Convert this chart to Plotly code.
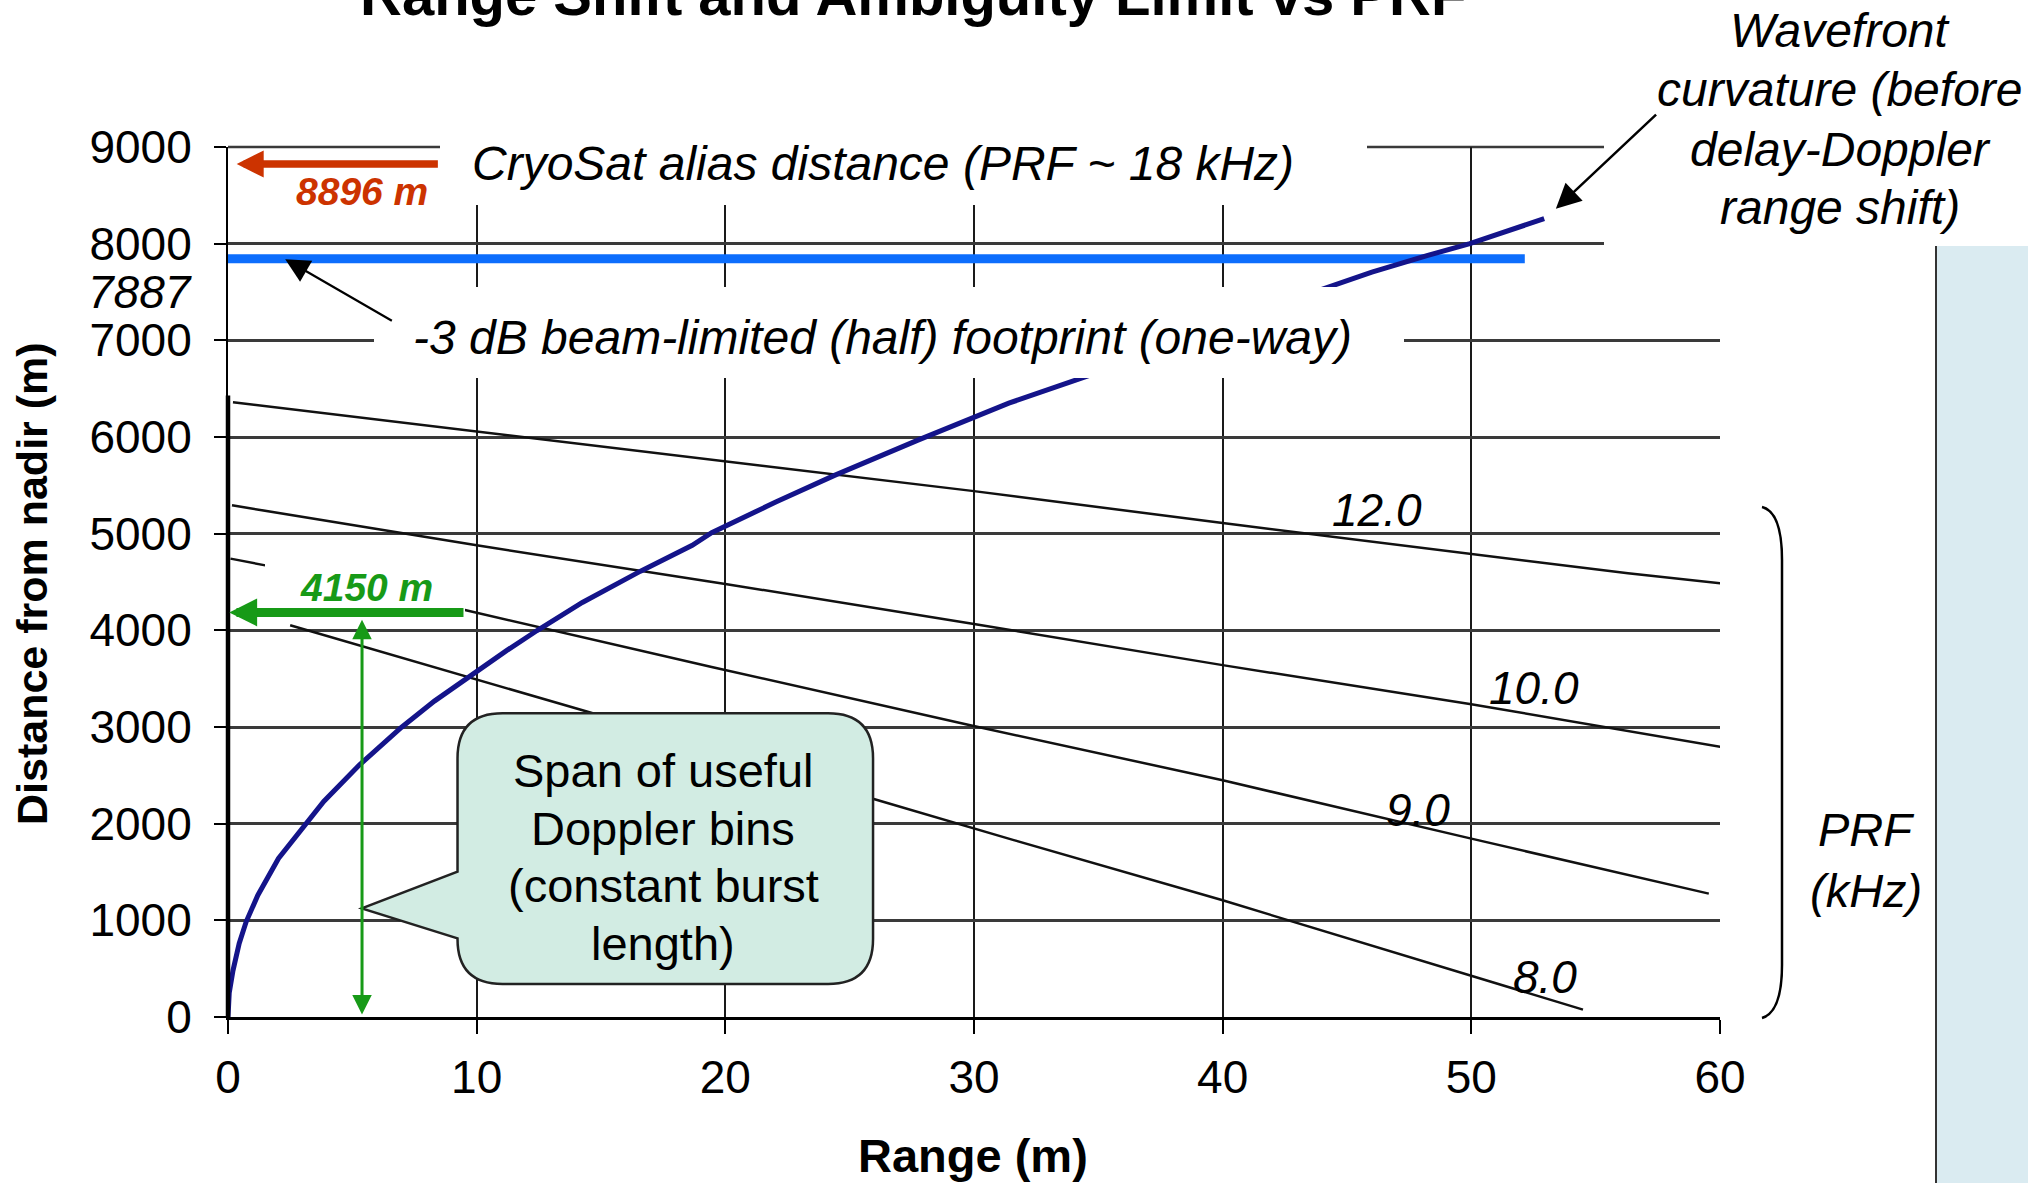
import plotly.graph_objects as go

# ---------------- data ----------------
# wavefront curvature curve: range shift (m) vs distance from nadir (m)
wave_range = [0, 0.05, 0.2, 0.45, 0.73, 1.2, 2.03, 3.07, 3.85, 5.28, 6.97, 8.3, 9.83,
              11.2, 12.43, 14.25, 16.59, 18.67, 19.45, 22.05, 24.39, 27.77, 31.4,
              34.67, 37.5, 40.5, 43.9, 46.0, 48.25, 49.94, 52.93]
wave_dist = [0, 250, 480, 760, 985, 1260, 1640, 1987, 2230, 2606, 2995, 3268, 3545,
             3790, 3998, 4288, 4612, 4880, 5010, 5330, 5603, 5970, 6350,
             6640, 6940, 7230, 7520, 7705, 7879, 8000, 8259]

# ambiguity limit lines for several PRFs (kHz)
prf12_x = [0.2, 10, 20, 30, 40, 50, 56.3, 60.3]
prf12_y = [6360, 6060, 5750, 5440, 5110, 4790, 4590, 4480]
prf10_x = [0.16, 10, 20, 30, 40, 50, 60.08]
prf10_y = [5293, 4880, 4480, 4065, 3640, 3235, 2793]
prf9_x = [0.1, 1.5, 9.57, 19.45, 29.85, 40, 50, 59.55]
prf9_y = [4742, 4672, 4207, 3621, 3018, 2449, 1845, 1276]
prf8_x = [2.5, 14.5, 25.9, 31.6, 40, 50, 54.49]
prf8_y = [4052, 3155, 2260, 1830, 1207, 431, 76]
prf_labels = ["12.0", "10.0", "9.0", "8.0"]
prf_label_x = [46.2, 52.5, 47.85, 52.98]
prf_label_y = [5240, 3400, 2140, 414]

# -3 dB beam-limited footprint (labelled 7887 m; drawn where it sits in the picture)
footprint_label = 7887
footprint_y = [7845, 7845]
footprint_x = [-0.44, 52.15]
# CryoSat alias distance, span of useful Doppler bins
alias_dist = 8896
span_dist = 4150

x_ticks = [0, 10, 20, 30, 40, 50, 60]
y_ticks = [0, 1000, 2000, 3000, 4000, 5000, 6000, 7000, 8000, 9000]

# ---------------- layout helpers ----------------
W, H = 2028, 1183
L, R, T, B = 228, 1720, 147, 1017
FONT = "Liberation Sans, Arial, Helvetica, sans-serif"


def PX(px):
    return (px - L) / (R - L)


def PY(py):
    return (B - py) / (B - T)


fig = go.Figure()

fig.add_trace(go.Scatter(x=footprint_x, y=footprint_y, mode="lines",
                         line=dict(color="#0D6EFD", width=9), hoverinfo="skip"))
for xs, ys in [(prf12_x, prf12_y), (prf10_x, prf10_y), (prf9_x, prf9_y), (prf8_x, prf8_y)]:
    fig.add_trace(go.Scatter(x=xs, y=ys, mode="lines",
                             line=dict(color="#111111", width=2.5), hoverinfo="skip"))
fig.add_trace(go.Scatter(x=wave_range, y=wave_dist, mode="lines",
                         line=dict(color="#14148A", width=5), hoverinfo="skip"))

shapes = []
# top gridline (9000)
shapes.append(dict(type="line", xref="paper", yref="paper", x0=0, x1=1, y0=1, y1=1,
                   line=dict(color="#3a3a3a", width=2.5), layer="below"))
# thick left axis segment
shapes.append(dict(type="line", xref="paper", yref="paper", x0=0, x1=0,
                   y0=0, y1=6430 / 9000, line=dict(color="black", width=4.5), layer="above"))
# white text backgrounds
for (x0, x1, y0, y1) in [(440, 1367, 95, 205), (374, 1404, 287, 378),
                         (1604, 2040, -5, 247.5), (265, 465, 558, 612)]:
    shapes.append(dict(type="rect", xref="paper", yref="paper",
                       x0=PX(x0), x1=PX(x1), y0=PY(y1), y1=PY(y0),
                       fillcolor="white", line=dict(width=0), layer="above"))
# light blue panel at right
shapes.append(dict(type="rect", xref="paper", yref="paper",
                   x0=PX(1936), x1=PX(2040), y0=PY(1200), y1=PY(246),
                   fillcolor="#DAEBF1", line=dict(width=0), layer="above"))
shapes.append(dict(type="line", xref="paper", yref="paper",
                   x0=PX(1936), x1=PX(1936), y0=PY(1200), y1=PY(246),
                   line=dict(color="#333333", width=2), layer="above"))
# bracket for PRF labels
br = ("M {a},{b} Q {c},{d} {c},{e} L {c},{f} Q {c},{g} {a},{h}").format(
    a=PX(1762), b=PY(507), c=PX(1782), d=PY(512), e=PY(560), f=PY(965), g=PY(1012), h=PY(1018))
shapes.append(dict(type="path", xref="paper", yref="paper", path=br,
                   line=dict(color="black", width=2.5), layer="above"))
# callout box
lx, rx, ty, by = 9.23, 25.94, 3142, 341
rdx, rdy = 1.81, 465
tipx, tipy = 5.38, 1124
pb_top, pb_bot = 1503, 814
callout = (f"M {lx+rdx},{ty} L {rx-rdx},{ty} Q {rx},{ty} {rx},{ty-rdy} "
           f"L {rx},{by+rdy} Q {rx},{by} {rx-rdx},{by} L {lx+rdx},{by} "
           f"Q {lx},{by} {lx},{by+rdy} L {lx},{pb_bot} L {tipx},{tipy} L {lx},{pb_top} "
           f"L {lx},{ty-rdy} Q {lx},{ty} {lx+rdx},{ty} Z")
shapes.append(dict(type="path", xref="x", yref="y", path=callout,
                   fillcolor="#D2ECE3", line=dict(color="#222222", width=2.5), layer="above"))

ann = []


def txt(text, x, y, size, xref="paper", yref="paper", color="black", xanchor="center",
        angle=0):
    ann.append(dict(text=text, x=x, y=y, xref=xref, yref=yref, showarrow=False,
                    font=dict(size=size, color=color, family=FONT), xanchor=xanchor,
                    yanchor="middle", textangle=angle))


txt("<b>Range Shift and Ambiguity Limit vs PRF</b>", PX(913), PY(-5), 58)
txt("<b>Distance from nadir (m)</b>", PX(32), PY(584), 43, angle=-90)
txt("<b>Range (m)</b>", PX(973), PY(1155), 47)
txt(f"<i>{footprint_label}</i>", PX(194), PY(292), 46, xanchor="right")
txt("<i>CryoSat alias distance (PRF ~ 18 kHz)</i>", PX(470), PY(163), 48, xanchor="left")
txt("<i>-3 dB beam-limited (half) footprint (one-way)</i>", PX(882), PY(337), 48)
for line, yy in zip(["Wavefront", "curvature (before", "delay-Doppler", "range shift)"],
                    [30, 90, 149, 207]):
    txt(f"<i>{line}</i>", PX(1840), PY(yy), 48)
txt("<i>PRF</i>", PX(1866), PY(829), 47)
txt("<i>(kHz)</i>", PX(1866), PY(891), 47)
for line, yy in zip(["Span of useful", "Doppler bins", "(constant burst", "length)"],
                    [770, 828, 885, 943]):
    txt(line, PX(663), PY(yy), 47)
for lab, lxx, lyy in zip(prf_labels, prf_label_x, prf_label_y):
    txt(f"<i>{lab}</i>", lxx, lyy, 46, xref="x", yref="y")
txt(f"<b><i>{alias_dist} m</i></b>", PX(362), PY(191), 39, color="#CC3300")
txt(f"<b><i>{span_dist} m</i></b>", PX(366), PY(587), 39, color="#179A17")


def arrow(x, y, ax, ay, color, width, head, size, both=False):
    d = dict(x=x, y=y, ax=ax, ay=ay, xref="x", yref="y", axref="x", ayref="y",
             text="", showarrow=True, arrowcolor=color, arrowwidth=width,
             arrowhead=head, arrowsize=size)
    if both:
        d.update(arrowside="end+start", startarrowhead=head, startarrowsize=size)
    ann.append(d)


arrow(0.35, 8824, 8.5, 8824, "#CC3300", 7.5, 2, 0.72)
arrow(0.05, 4185, 9.53, 4185, "#179A17", 9, 2, 0.62)
arrow(5.39, 4110, 5.39, 10, "#179A17", 3, 2, 1.3, both=True)
arrow(2.3, 7840, 6.65, 7193, "black", 2.2, 2, 2.2)
arrow(53.4, 8360, 57.49, 9349, "black", 2.5, 2, 2.0)

fig.update_layout(
    width=W, height=H,
    margin=dict(l=L, r=W - R, t=T, b=H - B, pad=0, autoexpand=False),
    paper_bgcolor="white", plot_bgcolor="white", showlegend=False,
    font=dict(family=FONT, color="black", size=46),
    xaxis=dict(range=[0, 60], tickvals=x_ticks, ticktext=[str(v) for v in x_ticks],
               showgrid=True, gridcolor="#1a1a1a", gridwidth=1.5, zeroline=False,
               showline=True, linecolor="black", linewidth=3, ticks="outside",
               ticklen=14, tickwidth=1.5, tickcolor="black",
               tickfont=dict(size=46, family=FONT), ticklabelstandoff=4, fixedrange=True),
    yaxis=dict(range=[0, 9000], tickvals=y_ticks, ticktext=[str(v) for v in y_ticks],
               showgrid=True, gridcolor="#3a3a3a", gridwidth=2.5, zeroline=False,
               showline=True, linecolor="black", linewidth=2, ticks="outside",
               ticklen=12, tickwidth=1.5, tickcolor="black",
               tickfont=dict(size=46, family=FONT), ticklabelstandoff=13, fixedrange=True),
    shapes=shapes, annotations=ann,
)

fig.write_html("out.html", config={"displayModeBar": False},
               post_script="document.body.style.margin='0';document.body.style.overflow='hidden';")
